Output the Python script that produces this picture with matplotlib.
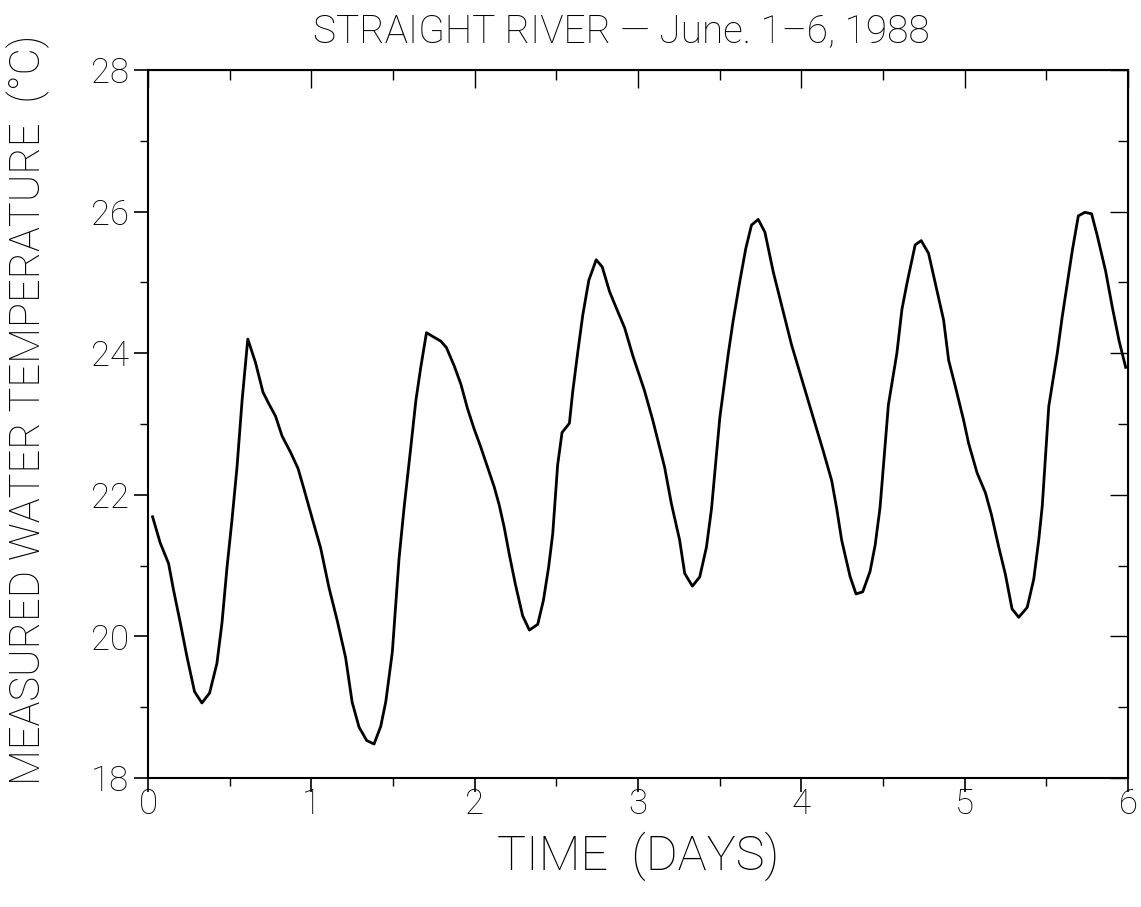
import matplotlib
matplotlib.use("Agg")
import matplotlib.pyplot as plt
from matplotlib.ticker import MultipleLocator

# ---- data ----
time_days = [0.028, 0.075, 0.126, 0.156, 0.198, 0.238, 0.285, 0.330, 0.377, 0.422,
             0.453, 0.484, 0.514, 0.545, 0.576, 0.611, 0.658, 0.704, 0.739, 0.781,
             0.821, 0.873, 0.919, 0.954, 1.005, 1.057, 1.108, 1.159, 1.210, 1.250,
             1.292, 1.339, 1.384, 1.425, 1.456, 1.496, 1.537, 1.568, 1.609, 1.640,
             1.670, 1.705, 1.741, 1.793, 1.827, 1.875, 1.916, 1.956, 1.997, 2.038,
             2.079, 2.120, 2.151, 2.181, 2.212, 2.249, 2.294, 2.335, 2.386, 2.421,
             2.453, 2.478, 2.508, 2.535, 2.580, 2.600, 2.631, 2.662, 2.699, 2.744,
             2.781, 2.826, 2.867, 2.918, 2.969, 3.040, 3.091, 3.163, 3.204, 3.255,
             3.286, 3.333, 3.378, 3.419, 3.450, 3.501, 3.552, 3.582, 3.623, 3.660,
             3.695, 3.736, 3.777, 3.828, 3.879, 3.940, 4.012, 4.073, 4.134, 4.186,
             4.217, 4.247, 4.298, 4.335, 4.376, 4.421, 4.452, 4.482, 4.533, 4.585,
             4.616, 4.647, 4.697, 4.734, 4.779, 4.830, 4.871, 4.902, 4.943, 4.993,
             5.024, 5.076, 5.127, 5.164, 5.209, 5.249, 5.290, 5.331, 5.383, 5.423,
             5.454, 5.475, 5.515, 5.567, 5.597, 5.628, 5.659, 5.696, 5.736, 5.777,
             5.812, 5.863, 5.904, 5.945, 5.986]
water_temp_c = [21.69, 21.32, 21.03, 20.66, 20.19, 19.72, 19.22, 19.06, 19.20, 19.62,
                20.19, 20.98, 21.64, 22.39, 23.33, 24.20, 23.87, 23.45, 23.29, 23.11,
                22.83, 22.60, 22.37, 22.09, 21.67, 21.25, 20.69, 20.22, 19.70, 19.07,
                18.72, 18.53, 18.48, 18.73, 19.08, 19.78, 21.10, 21.82, 22.67, 23.33,
                23.80, 24.29, 24.24, 24.17, 24.08, 23.82, 23.56, 23.22, 22.93, 22.67,
                22.39, 22.11, 21.85, 21.54, 21.16, 20.74, 20.29, 20.09, 20.17, 20.51,
                20.98, 21.45, 22.42, 22.88, 23.01, 23.45, 24.01, 24.54, 25.03, 25.32,
                25.22, 24.87, 24.64, 24.36, 23.96, 23.47, 23.05, 22.39, 21.88, 21.36,
                20.89, 20.71, 20.84, 21.26, 21.80, 23.09, 23.98, 24.45, 25.01, 25.48,
                25.81, 25.89, 25.71, 25.15, 24.68, 24.12, 23.56, 23.09, 22.62, 22.20,
                21.80, 21.36, 20.85, 20.60, 20.63, 20.92, 21.29, 21.82, 23.27, 24.00,
                24.62, 24.99, 25.53, 25.59, 25.41, 24.89, 24.47, 23.90, 23.53, 23.06,
                22.73, 22.31, 22.03, 21.72, 21.26, 20.88, 20.39, 20.27, 20.41, 20.81,
                21.37, 21.84, 23.25, 24.00, 24.51, 24.98, 25.45, 25.94, 25.99, 25.97,
                25.66, 25.16, 24.65, 24.18, 23.80]

x_ticks = [0, 1, 2, 3, 4, 5, 6]
x_tick_labels = ["0", "1", "2", "3", "4", "5", "6"]
y_ticks = [18, 20, 22, 24, 26, 28]
y_tick_labels = ["18", "20", "22", "24", "26", "28"]

title_text = "STRAIGHT RIVER \u2014 June. 1\u20136, 1988"
x_label_text = "TIME  (DAYS)"
y_label_text = "MEASURED WATER TEMPERATURE  (\u00b0C)"

plt.rcParams["font.family"] = ["Roboto", "DejaVu Sans"]
plt.rcParams["font.weight"] = "light"
plt.rcParams["axes.labelweight"] = "light"
plt.rcParams["axes.titleweight"] = "light"

fig = plt.figure(figsize=(11.41, 9.07), dpi=100)
ax = fig.add_axes([0.1297, 0.1422, 0.8589, 0.7806])

ax.plot(time_days, water_temp_c, color="black", lw=2.0, solid_joinstyle="round")

ax.set_xlim(0, 6)
ax.set_ylim(18, 28)

for s in ax.spines.values():
    s.set_linewidth(1.5)

ax.set_xticks(x_ticks)
ax.set_xticklabels(x_tick_labels)
ax.set_yticks(y_ticks)
ax.set_yticklabels(y_tick_labels)
ax.xaxis.set_minor_locator(MultipleLocator(0.5))
ax.yaxis.set_minor_locator(MultipleLocator(1))

ax.tick_params(axis="both", which="major", direction="out", length=10, width=1.2,
               labelsize=25, colors="black")
ax.tick_params(axis="both", which="minor", direction="out", length=6, width=1.0)
ax.tick_params(top=False, right=False, which="both")
ax.tick_params(axis="x", which="major", pad=-3)
ax.tick_params(axis="y", which="major", pad=4)

secx = ax.secondary_xaxis("top")
secx.set_xticks(x_ticks)
secx.xaxis.set_minor_locator(MultipleLocator(0.5))
secx.tick_params(which="major", direction="in", length=13, width=1.0, labeltop=False)
secx.tick_params(which="minor", direction="in", length=7, width=1.0)
secx.set_xticklabels([])

secy = ax.secondary_yaxis("right")
secy.set_yticks(y_ticks)
secy.yaxis.set_minor_locator(MultipleLocator(1))
secy.tick_params(which="major", direction="in", length=13, width=1.0, labelright=False)
secy.tick_params(which="minor", direction="in", length=7, width=1.0)
secy.set_yticklabels([])

ax.set_xlabel(x_label_text, fontsize=35)
ax.xaxis.set_label_coords(0.5, -0.075)
ax.xaxis.label.set_va("top")
ax.set_ylabel(y_label_text, fontsize=30)
ax.yaxis.set_label_coords(-0.122, 0.52)
ax.yaxis.label.set_va("center")
ax.set_title(title_text, fontsize=28, pad=20, x=0.483)

fig.savefig("out.png", dpi=100, facecolor="white")
